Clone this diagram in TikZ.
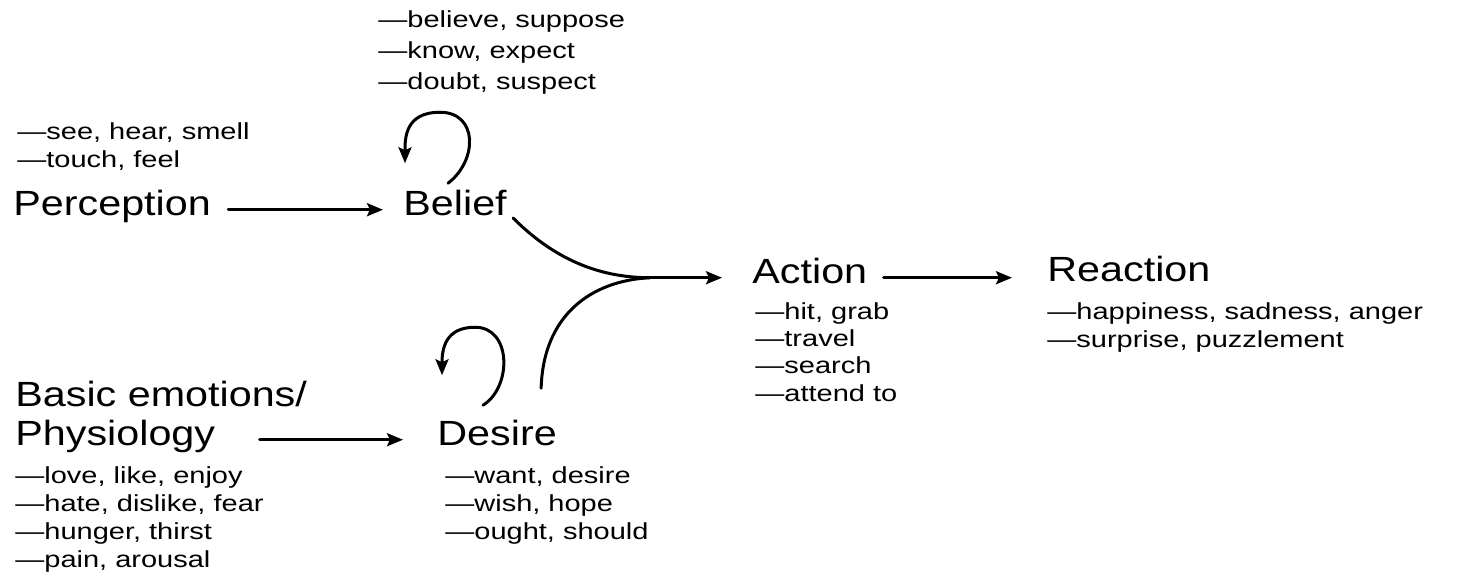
\documentclass[tikz,border=0pt]{standalone}
\usepackage{fontspec}
\setmainfont{Liberation Sans}
\newfontfamily\headfont{Liberation Sans}[FakeStretch=1.18]
\newfontfamily\listfont{Liberation Sans}[FakeStretch=1.25]
\usetikzlibrary{arrows.meta,calc}
\tikzset{
    stage/.style={anchor=base west, inner sep=0pt,
        font=\headfont\fontsize{17.5}{20}\selectfont},
    examples/.style={anchor=base west, inner sep=0pt, align=left,
        font=\listfont\fontsize{11.6}{14}\selectfont},
    link/.style={line width=1.5pt, line cap=round},
    flow/.style={link, -{Stealth[length=8pt,width=6.5pt,inset=1.5pt]}}
}

\begin{document}
\begin{tikzpicture}[x=0.5pt, y=-0.5pt]
    \useasboundingbox (0,0) rectangle (1468,585);
    \node[stage] (perception) at (13,215) {Perception};
    \node[stage] (belief) at (403,215) {Belief};
    \node[stage] (action) at (752,283) {Action};
    \node[stage] (reaction) at (1047,281) {Reaction};
    \node[stage] (basic) at (15,406) {Basic emotions/};
    \node[stage] (physiology) at (15,445) {Physiology};
    \node[stage] (desire) at (437,445) {Desire};

    \node[examples] (senses) at (17,167) {—see, hear, smell\\—touch, feel};
    \node[examples, font=\listfont\fontsize{11.6}{15.5}\selectfont] (beliefs) at (378,89)
        {—believe, suppose\\—know, expect\\—doubt, suspect};
    \node[examples, font=\listfont\fontsize{11.6}{13.6}\selectfont] (acts) at (755,401)
        {—hit, grab\\—travel\\—search\\—attend to};
    \node[examples, font=\listfont\fontsize{11.6}{13.6}\selectfont] (reacts) at (1047,347)
        {—happiness, sadness, anger\\—surprise, puzzlement};
    \node[examples] (emotions) at (15,567) {—love, like, enjoy\\—hate, dislike, fear\\—hunger, thirst\\—pain, arousal};
    \node[examples] (desires) at (445,539) {—want, desire\\—wish, hope\\—ought, should};

    \draw[flow, shorten <=8.5pt, shorten >=10pt] (perception.mid east) -- (belief.mid west);
    \draw[flow, shorten <=22pt, shorten >=17pt] (physiology.mid east) -- (desire.mid west);
    \draw[flow, shorten <=8pt, shorten >=17.5pt] (action.mid east) -- (reaction.mid west |- action.mid east);

    \coordinate (merge) at ($(action.mid west)+(-102,0)$);
    \draw[link] ($(belief.base east)+(6,3)$) .. controls +(38,38) and +(-55,0) .. (merge);
    \draw[link] ($(desire.north east)+(-16,-31)$) .. controls +(2,-72) and +(-60,3) .. (merge);
    \draw[flow, shorten >=15pt] (merge) -- (action.mid west);

    \draw[flow] ($(belief.north west)+(45,-6)$) .. controls +(30,-23) and +(38,0) .. ++(-8,-71)
        .. controls +(-35,0) and +(0,-25) .. ++(-35,51);
    \draw[flow] ($(desire.north west)+(46,-14)$) .. controls +(29,-18) and +(37,0) .. ++(-8,-78)
        .. controls +(-30,0) and +(0,-26) .. ++(-33,48);
\end{tikzpicture}
\end{document}
